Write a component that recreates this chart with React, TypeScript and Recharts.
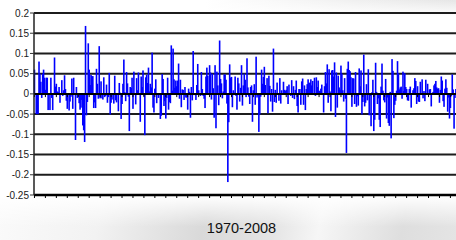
import { Bar, BarChart, CartesianGrid, ReferenceLine, XAxis, YAxis } from "recharts"

const BAR_COLOR = "#0000ff"
const GRID_COLOR = "#1c1c1c"
const FONT = "'Liberation Sans', Arial, sans-serif"

// monthly returns, Feb 1970 .. Dec 1979
const r1970s = [
	0.06, 0.0, -0.05, -0.05, -0.05, 0.08, 0.05, 0.03, -0.01, 0.05, 0.06,
	0.04, 0.01, 0.04, 0.04, -0.04, 0.0, -0.04, 0.04, -0.01, -0.04, 0.0, 0.09,
	0.018, 0.025, 0.006, 0.004, 0.017, -0.022, 0.002, 0.034, -0.005, 0.009, 0.046, 0.012,
	-0.017, -0.037, -0.001, -0.041, -0.019, -0.007, 0.038, -0.037, 0.04, -0.001, -0.114, 0.017,
	-0.01, -0.004, -0.023, -0.039, -0.034, -0.015, -0.078, -0.09, -0.119, 0.168, -0.053, -0.02,
	0.125, 0.06, 0.022, 0.047, 0.044, 0.044, -0.035, -0.021, -0.035, 0.062, 0.025, -0.012,
	0.118, -0.011, 0.031, -0.011, -0.014, 0.041, -0.008, -0.005, 0.023, -0.022, -0.008, 0.052,
	-0.051, -0.022, -0.014, 0.0, -0.024, 0.045, -0.016, -0.021, -0.002, -0.043, 0.027, 0.003,
	-0.062, -0.025, 0.025, 0.085, 0.004, -0.018, 0.054, 0.026, -0.007, -0.092, 0.017, 0.015,
	0.04, -0.037, 0.055, 0.002, -0.026, 0.039, 0.009, 0.053, 0.0, -0.069, 0.043, 0.017,
]

// Jan 1980 .. Dec 1989
const r1980s = [
	0.058, -0.004, -0.102, 0.041, 0.047, 0.027, 0.065, 0.006, 0.025, 0.016, 0.102, -0.034,
	-0.046, 0.013, 0.036, -0.023, -0.002, -0.01, -0.002, -0.062, -0.054, 0.049, 0.037, -0.03,
	-0.018, -0.061, -0.01, 0.04, -0.039, -0.02, -0.023, 0.12, 0.008, 0.112, 0.036, 0.015,
	0.033, 0.019, 0.033, 0.075, -0.012, 0.035, -0.033, 0.011, 0.01, -0.015, 0.017, -0.009,
	-0.009, -0.039, 0.013, 0.005, -0.059, 0.017, -0.016, 0.106, -0.003, 0.0, -0.015, 0.022,
	0.074, 0.009, -0.003, -0.005, 0.054, 0.012, -0.005, -0.012, -0.035, 0.043, 0.065, 0.045,
	0.002, 0.071, 0.053, -0.014, 0.05, 0.014, -0.059, 0.071, -0.085, 0.055, 0.021, -0.028,
	0.132, 0.037, 0.026, -0.011, 0.006, 0.048, 0.048, 0.035, -0.024, -0.218, -0.07, 0.073,
	0.04, 0.042, -0.033, 0.009, 0.003, 0.043, -0.005, -0.039, 0.04, 0.026, -0.019, 0.015,
	0.071, -0.029, 0.021, 0.05, 0.035, -0.008, 0.088, 0.016, -0.007, -0.025, 0.017, 0.021,
]

// Jan 1990 .. Dec 1999
const r1990s = [
	-0.069, 0.009, 0.024, -0.027, 0.092, -0.009, -0.005, -0.094, -0.051, -0.007, 0.06, 0.025,
	0.042, 0.067, 0.022, 0.0, 0.039, -0.048, 0.045, 0.02, -0.019, 0.012, -0.044, 0.112,
	-0.02, 0.01, -0.022, 0.028, 0.001, -0.017, 0.039, -0.024, 0.009, 0.002, 0.03, 0.01,
	0.007, 0.01, 0.019, -0.025, 0.023, 0.001, -0.005, 0.034, -0.01, 0.019, -0.013, 0.01,
	0.033, -0.03, -0.046, 0.012, 0.012, -0.027, 0.031, 0.038, -0.027, 0.021, -0.04, 0.012,
	0.024, 0.036, 0.027, 0.028, 0.036, 0.021, 0.032, 0.0, 0.04, -0.005, 0.041, 0.017,
	0.033, 0.007, 0.008, 0.013, 0.023, 0.002, -0.046, 0.019, 0.054, 0.026, 0.073, -0.022,
	0.061, 0.006, -0.043, 0.058, 0.059, 0.043, 0.078, -0.057, 0.053, -0.034, 0.045, 0.016,
	0.01, 0.07, 0.05, 0.009, -0.019, 0.039, -0.012, -0.146, 0.062, 0.08, 0.059, 0.056,
	0.041, -0.032, 0.039, 0.038, -0.025, 0.054, -0.032, -0.006, -0.029, 0.063, 0.019, 0.058,
]

// Jan 2000 .. Dec 2008
const r2000s = [
	-0.051, -0.02, 0.097, -0.031, -0.022, 0.024, -0.016, 0.061, -0.053, -0.005, -0.08, 0.004,
	0.035, -0.092, -0.064, 0.077, 0.005, -0.025, -0.011, -0.064, -0.082, 0.018, 0.075, 0.008,
	-0.016, -0.021, 0.037, -0.061, -0.009, -0.072, -0.079, 0.005, -0.11, 0.086, 0.057, -0.06,
	-0.027, -0.017, 0.008, 0.081, 0.051, 0.011, 0.016, 0.018, -0.012, 0.055, 0.007, 0.051,
	0.017, 0.012, -0.016, -0.017, 0.012, 0.018, -0.034, 0.002, 0.009, 0.014, 0.039, 0.032,
	-0.025, 0.019, -0.019, -0.02, 0.03, 0.0, 0.036, -0.011, 0.007, -0.018, 0.035, -0.001,
	0.025, 0.0, 0.011, 0.012, -0.031, 0.0, 0.005, 0.021, 0.025, 0.032, 0.016, 0.013,
	0.014, -0.022, 0.01, 0.043, 0.033, -0.018, -0.032, 0.013, 0.036, 0.015, -0.044, -0.009,
	-0.061, -0.035, -0.006, 0.048, 0.011, -0.086, -0.01, 0.012, -0.091, -0.169, -0.075, 0.008,
]

const yTicks = [0.2, 0.15, 0.1, 0.05, 0, -0.05, -0.1, -0.15, -0.2, -0.25]
const TITLE = "1970-2008"

const returns = [...r1970s, ...r1980s, ...r1990s, ...r2000s]
const data = returns.map((r, m) => ({ m, r }))
// a tick every 12 months
const yearTicks = data.filter((d) => d.m % 12 === 0).map((d) => d.m)

const ThinBar = (p: any) => {
	const { x, y, width, height } = p
	if (!height) return <g />
	return (
		<rect
			x={x + width / 2 - 0.8}
			y={Math.min(y, y + height)}
			width={1.6}
			height={Math.abs(height)}
			fill={BAR_COLOR}
		/>
	)
}

export default function App() {
	return (
		<div
			style={{
				position: "fixed",
				left: 0,
				top: 0,
				width: 456,
				height: 240,
				overflow: "hidden",
				background: "#ffffff",
			}}
		>
			<div
				style={{
					position: "absolute",
					left: 0,
					top: 0,
					width: 456,
					height: 16,
					background:
						"linear-gradient(to bottom, rgba(255,255,255,0) 0%, #ffffff 100%), linear-gradient(to right, #ffffff 45%, #e6e6e6 100%)",
				}}
			/>
			<div
				style={{
					position: "absolute",
					left: 0,
					top: 196,
					width: 456,
					height: 44,
					background:
						"linear-gradient(to bottom, #ffffff 0%, rgba(255,255,255,0) 70%), linear-gradient(100deg, #fafafa 0%, #f2f2f2 22%, #d9d9d9 45%, #e4e4e4 60%, #f6f6f6 70%, #dedede 88%, #e4e4e4 100%)",
				}}
			/>
			<div style={{ position: "absolute", left: 0, top: 0 }}>
				<BarChart
					width={470}
					height={240}
					data={data}
					margin={{ top: 13, right: 10, left: 0, bottom: 40 }}
					barCategoryGap={0}
					barGap={0}
				>
					<CartesianGrid horizontal vertical={false} stroke={GRID_COLOR} strokeWidth={2} />
					<XAxis
						dataKey="m"
						type="category"
						ticks={yearTicks}
						interval={0}
						height={5}
						tickSize={3}
						tickFormatter={() => ""}
						axisLine={{ stroke: "#000", strokeWidth: 2.5 }}
						tickLine={{ stroke: "#000" }}
					/>
					<YAxis
						width={34}
						domain={[-0.25, 0.2]}
						ticks={yTicks}
						interval={0}
						tickSize={4}
						tickMargin={1}
						tickFormatter={(v: number) => String(v)}
						tick={{ fontSize: 10, fill: "#1a1a1a", fontFamily: FONT }}
						axisLine={{ stroke: "#222", strokeWidth: 1.5 }}
						tickLine={{ stroke: "#333" }}
					/>
					<Bar dataKey="r" shape={ThinBar} isAnimationActive={false} />
					<ReferenceLine y={0} stroke="#000" strokeWidth={2} />
					{yearTicks.map((m) => (
						<ReferenceLine
							key={m}
							segment={[
								{ x: m, y: 0 },
								{ x: m, y: -0.008 },
							]}
							stroke="#000"
							strokeWidth={1}
						/>
					))}
				</BarChart>
			</div>
			<div
				style={{
					position: "absolute",
					left: 0,
					width: 483,
					top: 220,
					textAlign: "center",
					fontFamily: FONT,
					fontSize: 14.5,
					color: "#111",
				}}
			>
				{TITLE}
			</div>
		</div>
	)
}
